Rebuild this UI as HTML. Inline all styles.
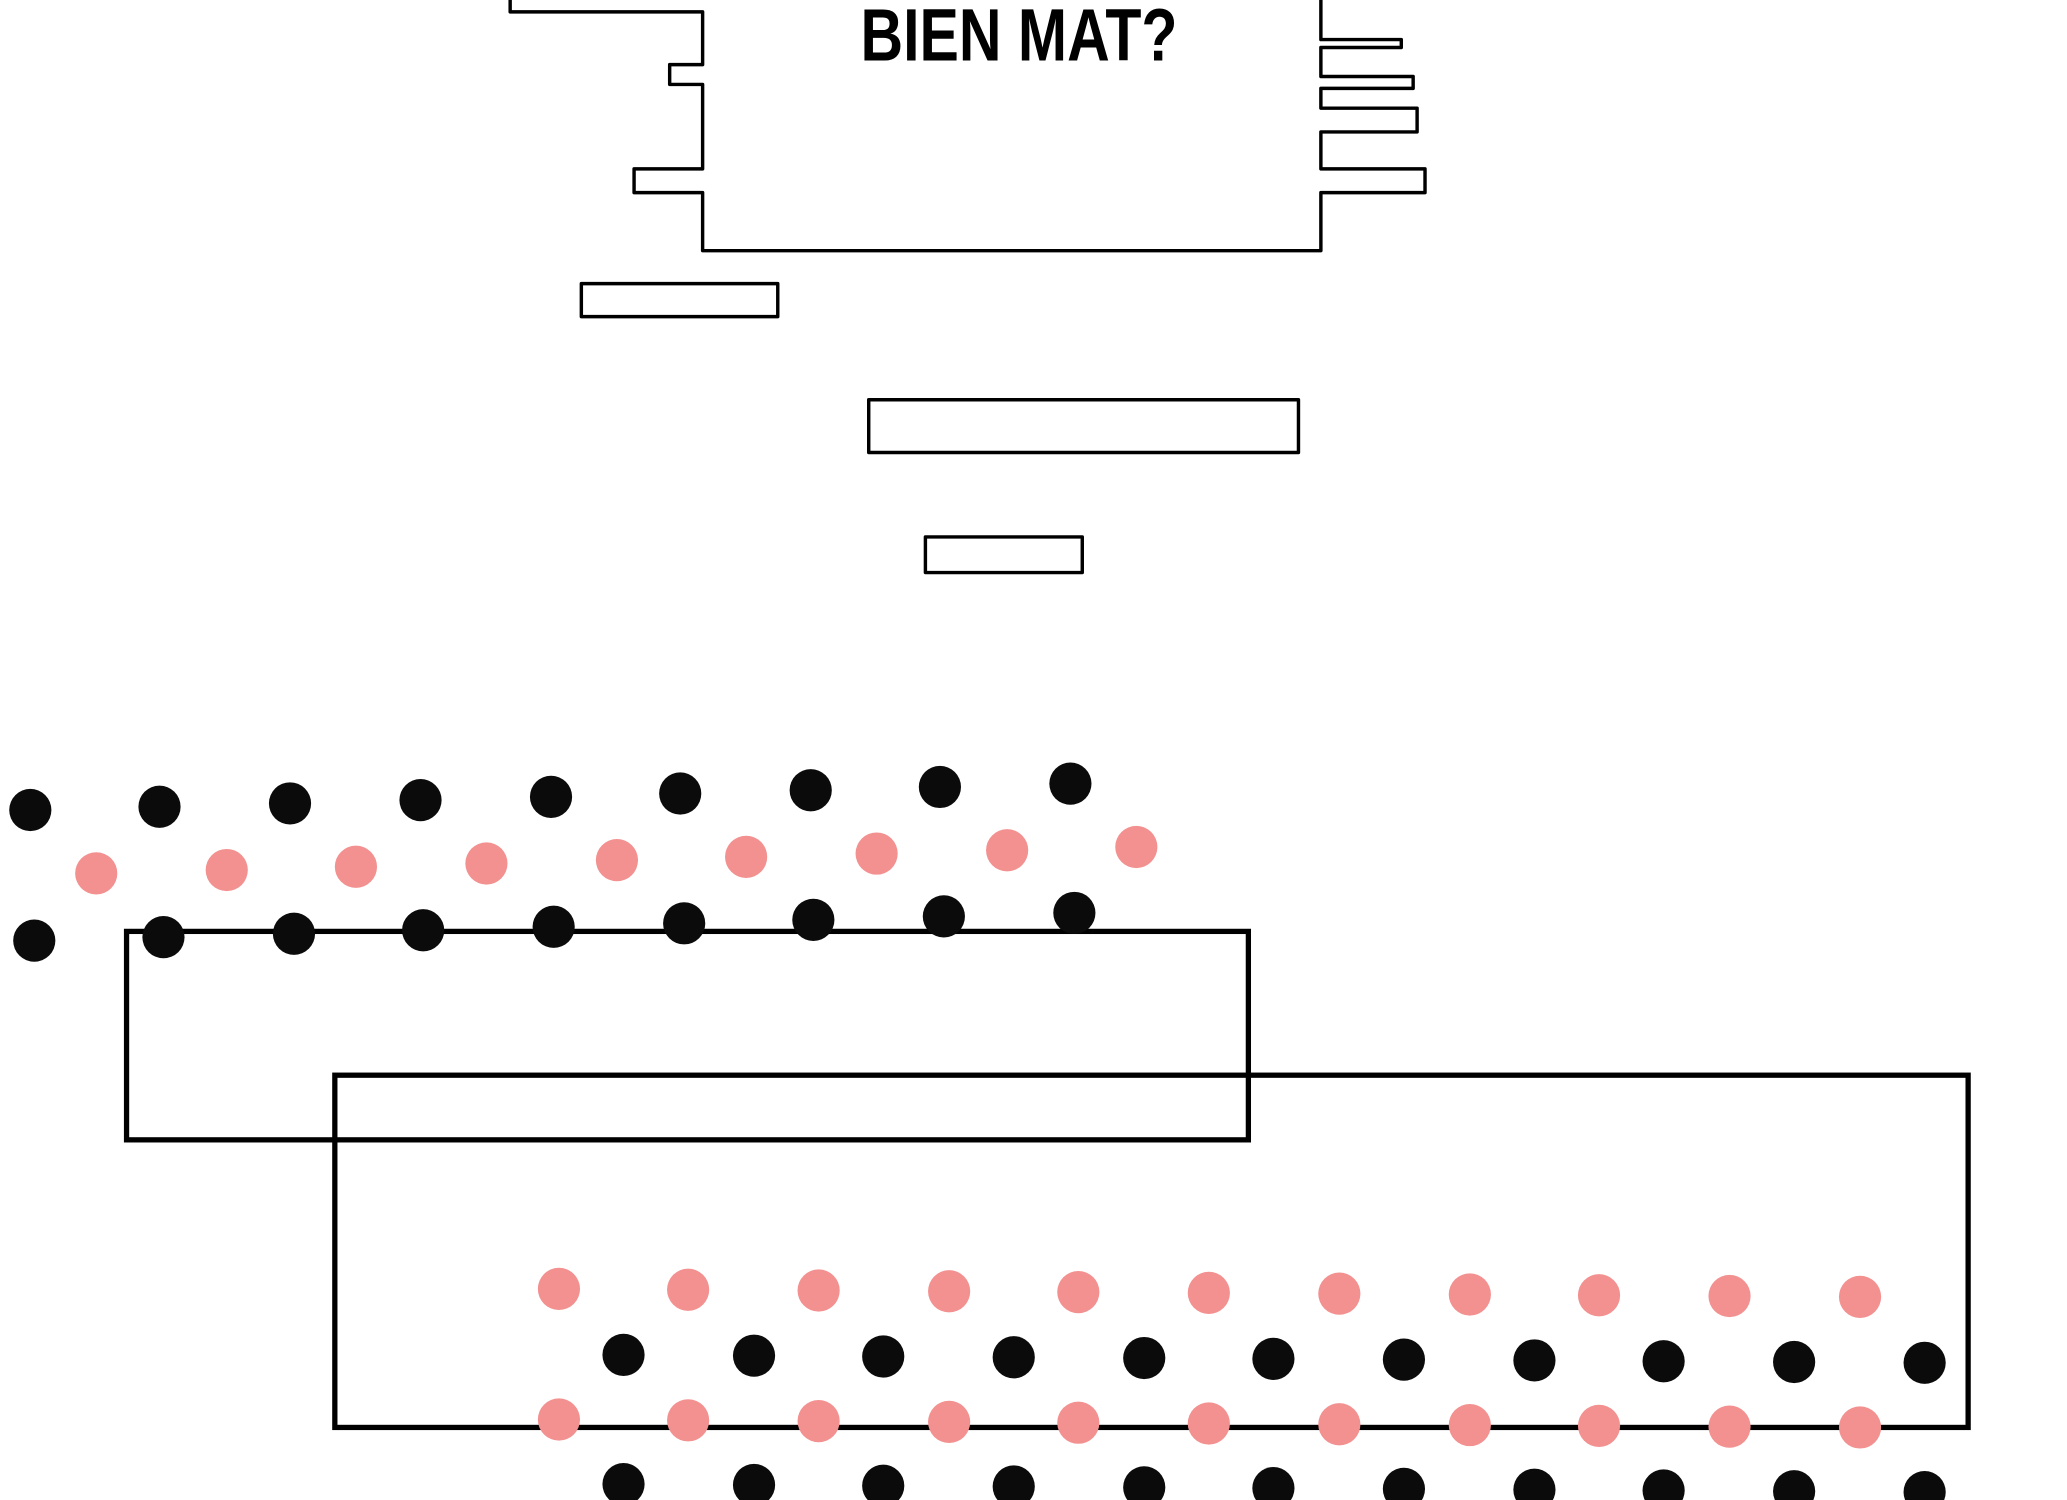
<!DOCTYPE html>
<html><head><meta charset="utf-8"><style>
html,body{margin:0;padding:0;background:#fff;}
svg{display:block;}
</style></head><body>
<svg width="2067" height="1500" viewBox="0 0 1568 1137" preserveAspectRatio="none" xmlns="http://www.w3.org/2000/svg">
<rect width="1568" height="1137" fill="#fff"/>
<g fill="none" stroke="#000" stroke-width="2.6" stroke-linejoin="round">
<polyline points="387,0 387,9 533,9 533,49 508,49 508,64 533,64 533,128 481,128 481,146 533,146 533,190 1002,190 1002,146 1081,146 1081,128 1002,128 1002,100 1075,100 1075,82 1002,82 1002,67 1072,67 1072,58 1002,58 1002,36 1063,36 1063,30 1002,30 1002,0"/>
<rect x="441" y="215" width="149" height="25"/>
<rect x="659" y="303" width="326" height="40"/>
<rect x="702" y="407" width="119" height="27"/>
</g>
<text x="773" y="46" text-anchor="middle" font-family="Liberation Sans, sans-serif" font-weight="bold" font-size="56" transform="translate(773,0) scale(0.8,1) translate(-773,0)" fill="#000">BIEN MAT?</text>
<g fill="none" stroke="#000" stroke-width="4">
<rect x="96" y="706" width="851" height="158"/>
<rect x="254" y="815" width="1239" height="267"/>
</g>
<g id="dots"></g>
</svg>
<script>
(function(){
var g=document.getElementById('dots');var ns='http://www.w3.org/2000/svg';
function row(xs,y0,y1,col){for(var i=0;i<xs.length;i++){var c=document.createElementNS(ns,'circle');c.setAttribute('cx',xs[i]);c.setAttribute('cy',y0+(y1-y0)*i/(xs.length-1));c.setAttribute('r',16);c.setAttribute('fill',col);g.appendChild(c);}}
var B='#0b0b0b',P='#f39090';
row([23,121,220,319,418,516,615,713,812],614,594,B);
row([73,172,270,369,468,566,665,764,862],662,642,P);
row([26,124,223,321,420,519,617,716,815],713,692,B);
var px=[424,522,621,720,818,917,1016,1115,1213,1312,1411],bx=[473,572,670,769,868,966,1065,1164,1262,1361,1460];
row(px,977,983,P);row(bx,1027,1033,B);row(px,1076,1082,P);row(bx,1125,1131,B);
})();
</script>
</body></html>
